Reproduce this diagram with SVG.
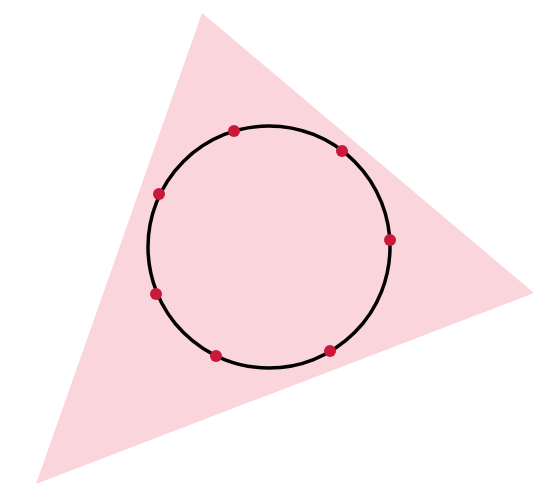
<svg xmlns="http://www.w3.org/2000/svg" width="545" height="500" viewBox="0 0 545 500">
<style>
.dot{fill:#c9193b}
</style>
<rect width="545" height="500" fill="#ffffff"/>
<g id="triangle"><polygon points="202,13 534,293 36,484" fill="#fbd5dc"/></g>
<g id="circle"><circle cx="269" cy="247" r="121" fill="none" stroke="#000" stroke-width="3.5"/></g>
<g id="points">
<circle class="dot" cx="234" cy="131" r="6"/>
<circle class="dot" cx="342" cy="151" r="6"/>
<circle class="dot" cx="390" cy="240" r="6"/>
<circle class="dot" cx="330" cy="351" r="6"/>
<circle class="dot" cx="216" cy="356" r="6"/>
<circle class="dot" cx="156" cy="294" r="6"/>
<circle class="dot" cx="159" cy="194" r="6"/>
</g>
</svg>
